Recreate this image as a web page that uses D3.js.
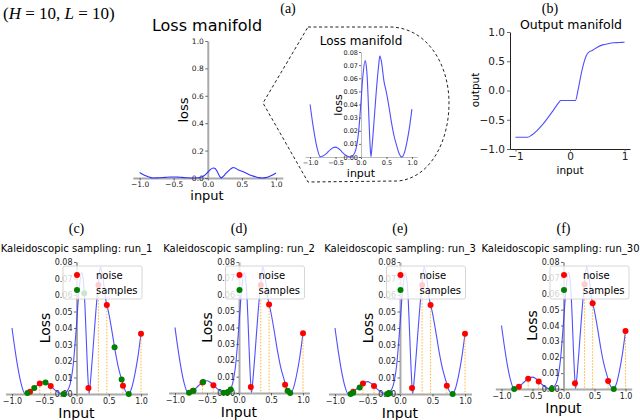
<!DOCTYPE html>
<html><head><meta charset="utf-8">
<script src="https://cdn.jsdelivr.net/npm/d3@7"></script>
<style>body{margin:0;background:#fff} svg{display:block}</style>
</head><body><svg id="c" width="640" height="420" font-family="DejaVu Sans, sans-serif"></svg>
<script>
// ---------- data ----------
const lossX = [-1.0,-0.95,-0.9,-0.85,-0.8,-0.75,-0.7,-0.65,-0.6,-0.55,-0.5,-0.45,-0.4,-0.35,-0.3,-0.25,-0.2,-0.15,-0.1,-0.05,0.0,0.04,0.08,0.1,0.12,0.14,0.16,0.18,0.195,0.21,0.23,0.25,0.3,0.35,0.37,0.4,0.45,0.5,0.55,0.6,0.65,0.7,0.75,0.8,0.85,0.9,0.95,1.0];
const lossY = [0.040,0.026,0.014,0.005,0.0002,0.0007,0.002,0.0038,0.0056,0.007,0.0075,0.0066,0.005,0.003,0.0014,0.0004,0.0,0.0015,0.0058,0.018,0.042,0.063,0.0735,0.0705,0.062,0.045,0.025,0.008,0.0003,0.005,0.014,0.024,0.05,0.071,0.077,0.073,0.058,0.049,0.038,0.026,0.016,0.0088,0.0025,0.0001,0.003,0.011,0.022,0.0365];

const outX = [-1,-0.78,-0.7,-0.6,-0.5,-0.4,-0.3,-0.2,-0.17,0.1,0.15,0.2,0.25,0.3,0.35,0.4,0.5,0.6,0.7,0.8,0.9,1.0];
const outY = [-0.8,-0.8,-0.76,-0.68,-0.58,-0.46,-0.33,-0.2,-0.17,-0.17,0.02,0.26,0.46,0.6,0.66,0.68,0.74,0.78,0.8,0.815,0.82,0.825];

const noiseX = [-0.72,-0.57,-0.40,0.185,0.34,0.47,0.72,1.0];
const noiseY = [0.0014,0.0064,0.0048,0.0036,0.066,0.054,0.005,0.0365];

const samplesX_run1 = [-0.76,-0.655,-0.48,-0.2,0.12,0.59,0.70,0.81];
const samplesY_run1 = [0.0006,0.0036,0.007,0.0,0.061,0.0284,0.0088,0.0];
const samplesX_run2 = [-0.78,-0.71,-0.56,-0.24,-0.18,-0.13,0.76,0.80];
const samplesY_run2 = [0.0002,0.0014,0.0067,0.0002,0.0003,0.0022,0.0014,0.0];
const samplesX_run3 = [-0.76,-0.72,-0.62,-0.2,-0.16,0.81];
const samplesY_run3 = [0.0,0.0008,0.004,0.0,0.0005,0.0];
const samplesX_run30 = [-0.795,-0.19,0.81];
const samplesY_run30 = [0.0,0.0,0.0];

const runNames = ["run_1","run_2","run_3","run_30"];
const panelLetters = ["(c)","(d)","(e)","(f)"];
const legendLabels = ["noise","samples"];

const xTickVals = [-1,-0.5,0,0.5,1];
const xTickLabels = ["\u22121.0","\u22120.5","0.0","0.5","1.0"];
const bigLossTickVals = [0,0.2,0.4,0.6,0.8,1.0];
const bigLossTickLabels = ["0.0","0.2","0.4","0.6","0.8","1.0"];
const smallLossTickVals = [0,0.01,0.02,0.03,0.04,0.05,0.06,0.07,0.08];
const smallLossTickLabels = ["0.00","0.01","0.02","0.03","0.04","0.05","0.06","0.07","0.08"];
const outXTickVals = [-1,0,1];
const outXTickLabels = ["\u22121","0","1"];
const outYTickVals = [-1,-0.5,0,0.5,1];
const outYTickLabels = ["\u22121.0","\u22120.5","0.0","0.5","1.0"];

// ---------- drawing ----------
const svg = d3.select("#c");
const BLUE = "#3030ff";
const SERIF = "Liberation Serif, DejaVu Serif, serif";
const lossPts = lossX.map((x,i)=>[x,lossY[i]]);
const outPts = outX.map((x,i)=>[x,outY[i]]);

function fmtFrom(vals, labels){ return v => labels[vals.findIndex(t=>Math.abs(t-v)<1e-9)]; }

function styleAxis(g, o){
  g.attr("font-family","DejaVu Sans, sans-serif").attr("font-size",o.fs);
  g.select(".domain").attr("stroke",o.spine).attr("stroke-width",o.sw);
  g.selectAll(".tick line").attr("stroke",o.tick||"#444").attr("stroke-width",0.8);
  g.selectAll(".tick text").attr("fill","#222");
}

function serifText(x,y,txt,size,anchor){
  return svg.append("text").attr("x",x).attr("y",y).attr("text-anchor",anchor||"middle")
    .attr("font-family",SERIF).attr("font-size",size).text(txt);
}

// Top-left annotation
{
  const t = svg.append("text").attr("x",3).attr("y",19).attr("font-family",SERIF).attr("font-size",17).style("white-space","pre");
  t.append("tspan").text("(");
  t.append("tspan").attr("font-style","italic").text("H");
  t.append("tspan").text(" = 10, ");
  t.append("tspan").attr("font-style","italic").text("L");
  t.append("tspan").text(" = 10)");
}
serifText(288,13,"(a)",14);
serifText(550,13,"(b)",14);

// ---- Main loss manifold ----
{
  const x = d3.scaleLinear().domain([-1.1,1.1]).range([132.8,282.8]);
  const y = d3.scaleLinear().domain([0,1]).range([178,41]);
  svg.append("text").attr("x",207).attr("y",31).attr("text-anchor","middle").attr("font-size",16).text("Loss manifold");
  const gx = svg.append("g").attr("transform",`translate(0,${y(0)})`)
    .call(d3.axisBottom(x).tickValues(xTickVals).tickFormat(fmtFrom(xTickVals,xTickLabels)).tickSize(2.5).tickSizeOuter(0).tickPadding(1.5));
  styleAxis(gx,{fs:7.5,spine:"#aaa",sw:2});
  const gy = svg.append("g").attr("transform",`translate(${x(0)},0)`)
    .call(d3.axisLeft(y).tickValues(bigLossTickVals).tickFormat(fmtFrom(bigLossTickVals,bigLossTickLabels)).tickSize(2.5).tickSizeOuter(0).tickPadding(1.5));
  styleAxis(gy,{fs:7.5,spine:"#aaa",sw:2});
  svg.append("path").attr("d",d3.line().x(d=>x(d[0])).y(d=>y(d[1])).curve(d3.curveMonotoneX)(lossPts))
    .attr("fill","none").attr("stroke",BLUE).attr("stroke-width",1.1);
  svg.append("text").attr("transform","translate(188,110) rotate(-90)").attr("text-anchor","middle").attr("font-size",13).text("loss");
  svg.append("text").attr("x",207).attr("y",200).attr("text-anchor","middle").attr("font-size",13).text("input");
}

// ---- Inset (zoomed) ----
{
  svg.append("path").attr("d","M308,27 L392,27 C428,29 449,65 449,103 C449,142 430,178 398,181 L308,182 L263,103 Z")
    .attr("fill","none").attr("stroke","#222").attr("stroke-width",1).attr("stroke-dasharray","3,2.5");
  const x = d3.scaleLinear().domain([-1.1,1.1]).range([305,417]);
  const y = d3.scaleLinear().domain([0,0.08]).range([157,52]);
  svg.append("text").attr("x",361).attr("y",45).attr("text-anchor","middle").attr("font-size",12).text("Loss manifold");
  const gx = svg.append("g").attr("transform",`translate(0,${y(0)})`)
    .call(d3.axisBottom(x).tickValues(xTickVals).tickFormat(fmtFrom(xTickVals,xTickLabels)).tickSize(2).tickSizeOuter(0).tickPadding(1));
  styleAxis(gx,{fs:6.5,spine:"#bbb",sw:1});
  const gy = svg.append("g").attr("transform",`translate(${x(0)},0)`)
    .call(d3.axisLeft(y).tickValues(smallLossTickVals).tickFormat(fmtFrom(smallLossTickVals,smallLossTickLabels)).tickSize(2).tickSizeOuter(0).tickPadding(1));
  styleAxis(gy,{fs:6.5,spine:"#bbb",sw:1});
  svg.append("path").attr("d",d3.line().x(d=>x(d[0])).y(d=>y(d[1])).curve(d3.curveMonotoneX)(lossPts))
    .attr("fill","none").attr("stroke",BLUE).attr("stroke-width",1.1).attr("opacity",0.85);
  svg.append("text").attr("transform","translate(342,105) rotate(-90)").attr("text-anchor","middle").attr("font-size",11).text("loss");
  svg.append("text").attr("x",361).attr("y",177).attr("text-anchor","middle").attr("font-size",11).text("input");
}

// ---- Output manifold ----
{
  const x = d3.scaleLinear().domain([-1.1,1.1]).range([510,630]);
  const y = d3.scaleLinear().domain([-1,1]).range([149,32]);
  svg.append("text").attr("x",571).attr("y",29).attr("text-anchor","middle").attr("font-size",12.5).text("Output manifold");
  const gx = svg.append("g").attr("transform",`translate(0,${y(-1)})`)
    .call(d3.axisBottom(x).tickValues(outXTickVals).tickFormat(fmtFrom(outXTickVals,outXTickLabels)).tickSize(2.5).tickSizeOuter(0).tickPadding(1));
  styleAxis(gx,{fs:10.5,spine:"#222",sw:1});
  const gy = svg.append("g").attr("transform",`translate(${x(-1.1)},0)`)
    .call(d3.axisLeft(y).tickValues(outYTickVals).tickFormat(fmtFrom(outYTickVals,outYTickLabels)).tickSize(3).tickSizeOuter(0).tickPadding(2));
  styleAxis(gy,{fs:10.5,spine:"#222",sw:1});
  svg.append("path").attr("d",d3.line().x(d=>x(d[0])).y(d=>y(d[1])).curve(d3.curveMonotoneX)(outPts))
    .attr("fill","none").attr("stroke",BLUE).attr("stroke-width",1.1).attr("opacity",0.85);
  svg.append("text").attr("transform","translate(479,90) rotate(-90)").attr("text-anchor","middle").attr("font-size",10.5).text("output");
  svg.append("text").attr("x",570).attr("y",174).attr("text-anchor","middle").attr("font-size",10.5).text("input");
}

// ---- Kaleidoscopic sampling panels ----
const samplesXs = [samplesX_run1,samplesX_run2,samplesX_run3,samplesX_run30];
const samplesYs = [samplesY_run1,samplesY_run2,samplesY_run3,samplesY_run30];
const panelLayout = [
  {zero:76.5, unit:64.5, y0:394, y8:262},
  {zero:239,  unit:64,   y0:393, y8:262},
  {zero:400,  unit:65,   y0:394, y8:262},
  {zero:563.5,unit:62,   y0:389, y8:262}
];
panelLayout.forEach((L,i)=>{
  const x = d3.scaleLinear().domain([-1.1,1.1]).range([L.zero-1.1*L.unit, L.zero+1.1*L.unit]);
  const y = d3.scaleLinear().domain([0,0.08]).range([L.y0,L.y8]);
  const g = svg.append("g");
  serifText(x(0), 233, panelLetters[i], 14);
  const last = i === panelLayout.length-1;
  g.append("text").attr("x",last ? 639.5 : x(0)).attr("y",252).attr("text-anchor",last ? "end" : "middle")
    .attr("font-size",10).text("Kaleidoscopic sampling: " + runNames[i]);
  const gx = g.append("g").attr("transform",`translate(0,${y(0)})`)
    .call(d3.axisBottom(x).tickValues(xTickVals).tickFormat(fmtFrom(xTickVals,xTickLabels)).tickSize(2.5).tickSizeOuter(0).tickPadding(1.5));
  styleAxis(gx,{fs:8,spine:"#aaa",sw:2});
  const gy = g.append("g").attr("transform",`translate(${x(0)},0)`)
    .call(d3.axisLeft(y).tickValues(smallLossTickVals).tickFormat(fmtFrom(smallLossTickVals,smallLossTickLabels)).tickSize(2.5).tickSizeOuter(0).tickPadding(1.5));
  styleAxis(gy,{fs:8,spine:"#aaa",sw:2});
  g.append("path").attr("d",d3.line().x(d=>x(d[0])).y(d=>y(d[1])).curve(d3.curveMonotoneX)(lossPts))
    .attr("fill","none").attr("stroke",BLUE).attr("stroke-width",1.1).attr("opacity",0.85);
  g.selectAll("line.drop").data(noiseX).join("line").attr("class","drop")
    .attr("x1",d=>x(d)).attr("x2",d=>x(d)).attr("y1",(d,k)=>y(noiseY[k])).attr("y2",y(0))
    .attr("stroke","orange").attr("stroke-width",1).attr("stroke-dasharray","1.5,1.5").attr("opacity",0.8);
  g.selectAll("circle.noise").data(noiseX).join("circle").attr("class","noise")
    .attr("cx",d=>x(d)).attr("cy",(d,k)=>y(noiseY[k])).attr("r",3).attr("fill","red");
  g.selectAll("circle.samp").data(samplesXs[i]).join("circle").attr("class","samp")
    .attr("cx",d=>x(d)).attr("cy",(d,k)=>y(samplesYs[i][k])).attr("r",3).attr("fill","green");
  const lx = x(0)-13.5, ly = L.y8+4;
  const lg = g.append("g");
  lg.append("rect").attr("x",lx).attr("y",ly).attr("width",79).attr("height",33).attr("rx",2)
    .attr("fill","white").attr("fill-opacity",0.8).attr("stroke","#ccc").attr("stroke-width",0.8);
  ["red","green"].forEach((c,k)=>{
    lg.append("circle").attr("cx",lx+14).attr("cy",ly+9+k*15).attr("r",3).attr("fill",c);
    lg.append("text").attr("x",lx+33).attr("y",ly+9+k*15).attr("dy","0.35em").attr("font-size",10).text(legendLabels[k]);
  });
  g.append("text").attr("transform",`translate(${x(0)-27},${(L.y0+L.y8)/2}) rotate(-90)`).attr("text-anchor","middle").attr("font-size",14).text("Loss");
  g.append("text").attr("x",x(0)).attr("y",L.y0+24).attr("text-anchor","middle").attr("font-size",14).text("Input");
});
</script></body></html>
